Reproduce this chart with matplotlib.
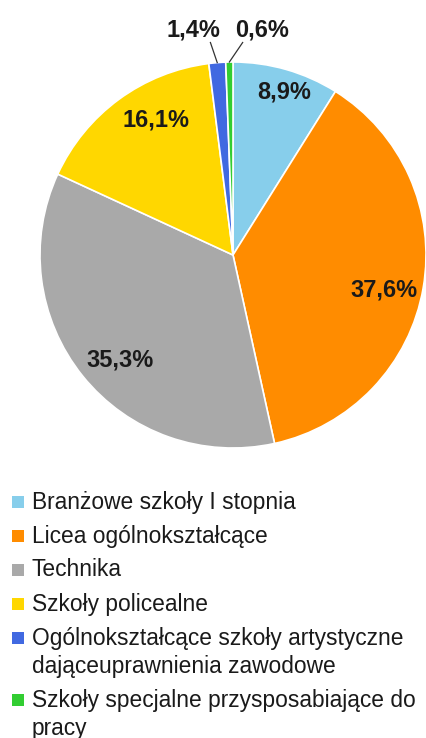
import matplotlib
matplotlib.use("Agg")
import matplotlib.pyplot as plt
from matplotlib.patches import Rectangle
import numpy as np

plt.rcParams['font.family'] = ['Liberation Sans', 'DejaVu Sans']

# data
labels = ['Branżowe szkoły I stopnia',
          'Licea ogólnokształcące',
          'Technika',
          'Szkoły policealne',
          'Ogólnokształcące szkoły artystyczne\ndająceuprawnienia zawodowe',
          'Szkoły specjalne przysposabiające do\npracy']
values = [8.9, 37.6, 35.3, 16.1, 1.4, 0.6]
pct_text = ['8,9%', '37,6%', '35,3%', '16,1%', '1,4%', '0,6%']
colors = ['#87CEEB', '#FF8C00', '#A9A9A9', '#FFD700', '#4169E1', '#32CD32']

# label positions in pie units (radius = 1)
label_pos = [(0.264, 0.845), (0.782, -0.181), (-0.585, -0.544),
             (-0.399, 0.699), (-0.207, 1.166), (0.150, 1.166)]

W, H = 427, 738
fig = plt.figure(figsize=(W / 100, H / 100), dpi=100)

# pie: centre (233,255) px, radius 193 px
cx, cy, r = 233, 255, 193
ax = fig.add_axes([(cx - r) / W, 1 - (cy + r) / H, 2 * r / W, 2 * r / H])
wedges, _ = ax.pie(values, colors=colors, startangle=90, counterclock=False,
                   radius=1, wedgeprops=dict(edgecolor='white', linewidth=1.2))
ax.set_xlim(-1, 1)
ax.set_ylim(-1, 1)
ax.set_aspect('equal')
ax.axis('off')

for i, w in enumerate(wedges):
    tx, ty = label_pos[i]
    ax.text(tx, ty, pct_text[i], ha='center', va='center', fontsize=17,
            fontweight='bold', color='#1a1a1a')
    if i >= 4:
        # small slices: leader line from the rim up to the label
        mid = np.deg2rad((w.theta1 + w.theta2) / 2)
        x0, y0 = np.cos(mid), np.sin(mid)
        lx = tx + (0.09 if i == 4 else -0.1)
        ax.plot([x0, lx], [y0, ty - 0.065], color='#333333', lw=0.9,
                clip_on=False)

# legend drawn by hand so the marker sits on the first line
y = 502
for lab, col in zip(labels, colors):
    lines = lab.split('\n')
    fig.patches.append(Rectangle((12 / W, 1 - (y + 6) / H), 12 / W, 12 / H,
                                 transform=fig.transFigure, facecolor=col,
                                 edgecolor='none'))
    for k, line in enumerate(lines):
        fig.text(32 / W, 1 - (y + 28 * k) / H, line, ha='left', va='center',
                 fontsize=16.4, color='#1a1a1a')
    y += 34 + 28 * (len(lines) - 1)

fig.savefig('out.png', dpi=100, facecolor='white')
